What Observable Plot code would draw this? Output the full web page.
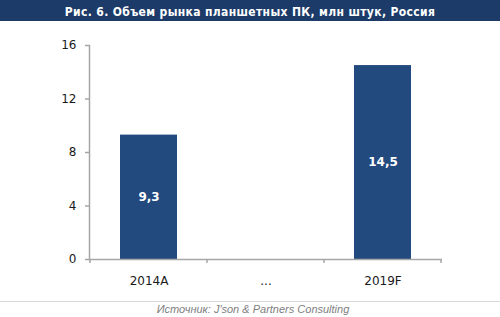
<!DOCTYPE html>
<html>
<head>
<meta charset="utf-8">
<script src="https://cdn.jsdelivr.net/npm/d3@7"></script>
<script src="https://cdn.jsdelivr.net/npm/@observablehq/plot@0.6"></script>
<style>
  html, body { margin: 0; padding: 0; background: #fff; }
  #wrap { width: 500px; }
  #title { height: 21px; background: #1c3b69; color: #fff; font: bold 12px "DejaVu Sans Condensed", "DejaVu Sans", sans-serif; letter-spacing: 0.35px; text-align: center; line-height: 25px; box-sizing: border-box; overflow: hidden; }
  #chart svg { display: block; }
  #rule { margin-top: 5px; border-top: 1.5px solid #d9d9d9; }
  #caption { font: italic 11px "Liberation Sans", Arial, sans-serif; color: #808080; text-align: center; line-height: 14px; padding-left: 6px; }
</style>
</head>
<body>
<div id="wrap">
  <div id="title">Рис. 6. Объем рынка планшетных ПК, млн штук, Россия</div>
  <div id="chart"></div>
  <div id="rule"></div>
  <div id="caption">Источник: J'son &amp; Partners Consulting</div>
</div>
<script>
const categories = ["2014A", "...", "2019F"];
const values = [9.3, null, 14.5];
const yTicks = [0, 4, 8, 12, 16];

const data = categories.map((c, i) => ({cat: c, value: values[i]}));
const barData = data.filter(d => d.value != null);
const fmt = d3.formatLocale({decimal: ",", thousands: " ", grouping: [3], currency: ["", ""]}).format(".1f");

const axisGray = "#a6a6a6";

function boundaryTicks(index, scales, vals, dimensions) {
  const x = scales.x, y = scales.y;
  const step = typeof x.step === "function" ? x.step() : x.step;
  const bw = typeof x.bandwidth === "function" ? x.bandwidth() : x.bandwidth;
  const lefts = categories.map(c => x(c) - (step - bw) / 2);
  lefts.push(lefts[lefts.length - 1] + step);
  const y0 = y(0);
  const g = d3.create("svg:g");
  g.selectAll("line").data(lefts).join("line")
    .attr("x1", d => d).attr("x2", d => d)
    .attr("y1", y0).attr("y2", y0 + 4)
    .attr("stroke", axisGray).attr("stroke-width", 1.5);
  return g.node();
}

const plot = Plot.plot({
  width: 500,
  height: 275,
  marginTop: 24,
  marginBottom: 37,
  marginLeft: 89,
  marginRight: 58,
  style: {fontFamily: "'DejaVu Sans', Verdana, sans-serif", fontSize: "12px", color: "#1a1a1a", background: "#fff"},
  x: {domain: categories, paddingInner: 0.516, paddingOuter: 0.258, label: null},
  y: {domain: [0, 16], label: null},
  marks: [
    Plot.axisY({ticks: yTicks, tickSize: 4, tickPadding: 9, stroke: axisGray, strokeWidth: 1.5, label: null, fill: "#1a1a1a"}),
    Plot.axisX({tickSize: 0, tickPadding: 17, label: null, fill: "#1a1a1a"}),
    Plot.barY(barData, {x: "cat", y: "value", fill: "#224a7f", style: {filter: "drop-shadow(2px 1px 1.5px rgba(0,0,0,0.25))"}}),
    Plot.text(barData, {x: "cat", y: d => d.value / 2, text: d => fmt(d.value), fill: "#fff", fontWeight: "bold", fontSize: 12}),
    Plot.frame({anchor: "left", stroke: axisGray, strokeWidth: 1.5}),
    Plot.ruleY([0], {stroke: axisGray, strokeWidth: 1.5}),
    boundaryTicks
  ]
});
document.getElementById("chart").appendChild(plot);
</script>
</body>
</html>
